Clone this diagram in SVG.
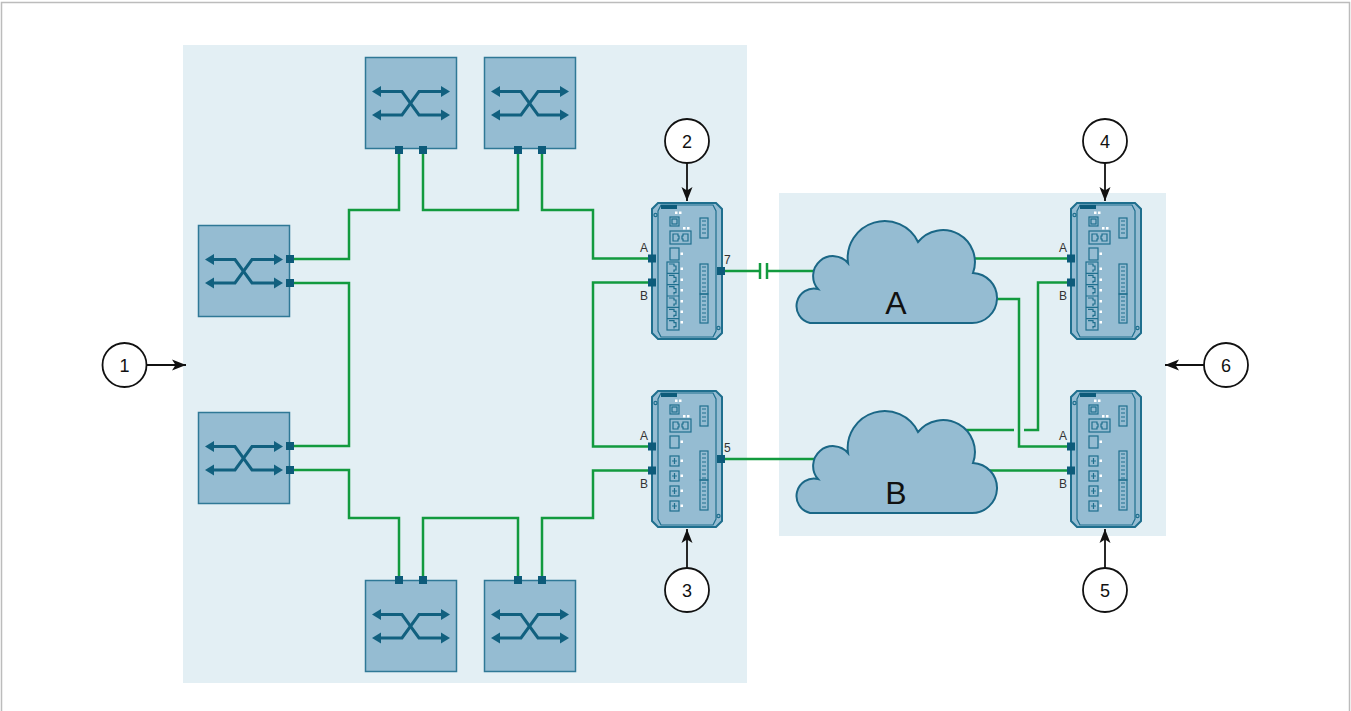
<svg xmlns="http://www.w3.org/2000/svg" xmlns:xlink="http://www.w3.org/1999/xlink" width="1351" height="711" viewBox="0 0 1351 711">
  <style>
    .frame { fill: #ffffff; stroke: #bcbcbc; stroke-width: 1.5; }
    .panel { fill: #e3eff4; }
    .wire { fill: none; stroke: #129a3e; stroke-width: 2.5; }
    .port { fill: #0d5b7a; }
    .body { fill: #95bcd2; stroke: #1f6f8e; stroke-width: 2; }
    .line { fill: none; stroke: #1f6f8e; stroke-width: 1.2; }
    .dot { fill: #ffffff; }
    .cloud { fill: #95bcd2; stroke: #1a6786; stroke-width: 2; }
    .plabel { font-family: "Liberation Sans", Arial, sans-serif; font-size: 12px; fill: #333333; }
    .clabel { font-family: "Liberation Sans", Arial, sans-serif; font-size: 32px; fill: #111111; text-anchor: middle; }
    .callout circle { fill: #ffffff; stroke: #111111; stroke-width: 1.8; }
    .callout text { font-family: "Liberation Sans", Arial, sans-serif; font-size: 18px; fill: #111111; text-anchor: middle; }
    .callout line { stroke: #111111; stroke-width: 1.8; }
  </style>
  <defs>
    <marker id="tip" markerUnits="userSpaceOnUse" markerWidth="15" markerHeight="12" refX="14" refY="6" orient="auto">
      <path d="M0,0.5 L14,6 L0,11.5 L3.5,6 Z" fill="#111111"/>
    </marker>

    <!-- Ethernet switch -->
    <symbol id="switch" viewBox="0 0 92 92" width="92" height="92" overflow="visible">
      <rect x="0.5" y="0.5" width="91" height="91" fill="#95bcd2" stroke="#2f7896" stroke-width="1.5"/>
      <g fill="none" stroke="#11607f" stroke-width="3">
        <path d="M14,34.5 H37 L54,58 H78"/>
        <path d="M14,58 H37 L54,34.5 H78"/>
      </g>
      <g fill="#11607f">
        <polygon points="7,34.5 16,29 16,40"/>
        <polygon points="85,34.5 76,29 76,40"/>
        <polygon points="7,58 16,52.5 16,63.5"/>
        <polygon points="85,58 76,52.5 76,63.5"/>
      </g>
    </symbol>

    <!-- device housing shared by both device types -->
    <g id="housing">
      <path class="body" d="M6,0 H64 L70,6 V130 L64,136 H6 L0,130 V6 Z"/>
      <path class="line" d="M6,8 L9,2 H61 L64,8 V128 L61,134 H9 L6,128 Z"/>
      <circle cx="3.5" cy="12" r="1.6" class="line"/>
      <circle cx="66.5" cy="125" r="1.6" class="line"/>
      <rect x="9" y="2" width="16" height="4" fill="#0d5b7a"/>
      <rect x="23" y="8.5" width="2.5" height="2.5" class="dot"/>
      <rect x="27" y="8.5" width="2.5" height="2.5" class="dot"/>
      <rect x="18" y="14" width="9" height="9" class="line"/>
      <rect x="20" y="16" width="5" height="5" class="line"/>
      <rect x="31" y="24" width="2.5" height="2.5" class="dot"/>
      <rect x="35" y="24" width="2.5" height="2.5" class="dot"/>
      <rect x="18" y="28" width="21" height="13" class="line" stroke-width="1.6"/>
      <path class="line" d="M21,31 H26 V33 H27 V36 H26 V38 H21 Z M36,31 H31 V33 H30 V36 H31 V38 H36 Z"/>
      <rect x="18" y="45" width="9" height="12" class="line"/>
      <rect x="28.5" y="49.5" width="2.5" height="2.5" class="dot"/>
      <rect x="48" y="15" width="8" height="20" class="line"/>
      <path class="line" d="M50,18 h4 M50,22 h4 M50,26 h4 M50,30 h4"/>
    </g>

    <!-- device with six RJ45 ports -->
    <symbol id="dev-rj" viewBox="0 0 70 136" width="70" height="136" overflow="visible">
      <use xlink:href="#housing"/>
      <rect x="15" y="59" width="12" height="68" class="line" stroke-width="1.4"/>
      <path class="line" d="M15,70.3 H27 M15,81.6 H27 M15,93 H27 M15,104.3 H27 M15,115.6 H27"/>
      <path class="line" d="M17,61 H22 V63 H24 V67 H22 V69 M17,72.3 H22 V74.3 H24 V78.3 H22 V80.3 M17,83.6 H22 V85.6 H24 V89.6 H22 V91.6 M17,95 H22 V97 H24 V101 H22 V103 M17,106.3 H22 V108.3 H24 V112.3 H22 V114.3 M17,117.6 H22 V119.6 H24 V123.6 H22 V125.6"/>
      <g class="dot">
        <rect x="28.5" y="64.5" width="2.5" height="2.5"/>
        <rect x="28.5" y="75.5" width="2.5" height="2.5"/>
        <rect x="28.5" y="86" width="2.5" height="2.5"/>
        <rect x="28.5" y="97" width="2.5" height="2.5"/>
        <rect x="28.5" y="107.5" width="2.5" height="2.5"/>
        <rect x="28.5" y="118" width="2.5" height="2.5"/>
      </g>
      <rect x="48" y="61" width="8" height="30" class="line"/>
      <rect x="48" y="91" width="8" height="29" class="line"/>
      <path class="line" d="M50,64 h4 M50,68 h4 M50,72 h4 M50,76 h4 M50,80 h4 M50,84 h4 M50,88 h4 M50,94 h4 M50,98 h4 M50,102 h4 M50,106 h4 M50,110 h4 M50,114 h4 M50,117 h4"/>
    </symbol>

    <!-- device with four small connectors -->
    <symbol id="dev-io" viewBox="0 0 70 136" width="70" height="136" overflow="visible">
      <use xlink:href="#housing"/>
      <g class="line">
        <rect x="18" y="65" width="9" height="10"/>
        <rect x="18" y="80" width="9" height="10"/>
        <rect x="18" y="95" width="9" height="10"/>
        <rect x="18" y="110" width="9" height="10"/>
        <path d="M20,70 h5 M22.5,67 v6 M20,85 h5 M22.5,82 v6 M20,100 h5 M22.5,97 v6 M20,115 h5 M22.5,112 v6"/>
      </g>
      <g class="dot">
        <rect x="28.5" y="68.5" width="2.5" height="2.5"/>
        <rect x="28.5" y="83.5" width="2.5" height="2.5"/>
        <rect x="28.5" y="98.5" width="2.5" height="2.5"/>
        <rect x="28.5" y="113.5" width="2.5" height="2.5"/>
      </g>
      <rect x="48" y="60" width="8" height="29" class="line"/>
      <rect x="48" y="89" width="8" height="30" class="line"/>
      <path class="line" d="M50,63 h4 M50,67 h4 M50,71 h4 M50,75 h4 M50,79 h4 M50,83 h4 M50,87 h4 M50,92 h4 M50,96 h4 M50,100 h4 M50,104 h4 M50,108 h4 M50,112 h4 M50,116 h4"/>
    </symbol>

    <path id="cloud-shape" class="cloud" d="M810,323 A17,17 0 1 1 818,289 A19,19 0 1 1 848,263 A37,37 0 0 1 918,242 A32,32 0 0 1 973,273 A24,24 0 0 1 971,323 Z"/>
  </defs>

  <rect class="frame" x="1.5" y="2.5" width="1348" height="712"/>
  <rect class="panel" x="183" y="45" width="564" height="638"/>
  <rect class="panel" x="779" y="193" width="387" height="343"/>

  <!-- links -->
  <g id="connectors">
    <path class="wire" d="M290,259 H349 V210 H399 V150"/>
    <path class="wire" d="M423,150 V210 H518 V150"/>
    <path class="wire" d="M542,150 V210 H593 V258.5 H652"/>
    <path class="wire" d="M290,283 H349 V446 H290"/>
    <path class="wire" d="M290,470 H349 V518 H399 V580"/>
    <path class="wire" d="M423,580 V518 H518 V580"/>
    <path class="wire" d="M542,580 V518 H593 V470.5 H652"/>
    <path class="wire" d="M652,282.5 H593 V446.5 H652"/>
    <path class="wire" d="M721,271 H759.5 M767,271 H816"/>
    <path class="wire" d="M760,263 V279 M767,263 V279" stroke-width="3"/>
    <path class="wire" d="M960,258.5 H1071"/>
    <path class="wire" d="M985,299 H1019 V446.5 H1071"/>
    <path class="wire" d="M1071,282.5 H1038 V430 H1024 M1014,430 H960"/>
    <path class="wire" d="M721,459 H816"/>
    <path class="wire" d="M985,470.5 H1071"/>
  </g>

  <!-- switches -->
  <g id="switch-top-1">
    <use xlink:href="#switch" x="365" y="57"/>
    <rect class="port" x="395" y="146" width="8" height="8"/>
    <rect class="port" x="419" y="146" width="8" height="8"/>
  </g>
  <g id="switch-top-2">
    <use xlink:href="#switch" x="484" y="57"/>
    <rect class="port" x="514" y="146" width="8" height="8"/>
    <rect class="port" x="538" y="146" width="8" height="8"/>
  </g>
  <g id="switch-left-1">
    <use xlink:href="#switch" x="198" y="225"/>
    <rect class="port" x="286" y="255" width="8" height="8"/>
    <rect class="port" x="286" y="279" width="8" height="8"/>
  </g>
  <g id="switch-left-2">
    <use xlink:href="#switch" x="198" y="412"/>
    <rect class="port" x="286" y="442" width="8" height="8"/>
    <rect class="port" x="286" y="466" width="8" height="8"/>
  </g>
  <g id="switch-bottom-1">
    <use xlink:href="#switch" x="365" y="580"/>
    <rect class="port" x="395" y="576" width="8" height="8"/>
    <rect class="port" x="419" y="576" width="8" height="8"/>
  </g>
  <g id="switch-bottom-2">
    <use xlink:href="#switch" x="484" y="580"/>
    <rect class="port" x="514" y="576" width="8" height="8"/>
    <rect class="port" x="538" y="576" width="8" height="8"/>
  </g>

  <!-- devices -->
  <g id="device-2">
    <use xlink:href="#dev-rj" x="652" y="203"/>
    <rect class="port" x="648" y="254.5" width="8" height="8"/>
    <rect class="port" x="648" y="278.5" width="8" height="8"/>
    <rect class="port" x="717" y="267" width="8" height="8"/>
    <text class="plabel" x="640" y="252">A</text>
    <text class="plabel" x="640" y="300">B</text>
    <text class="plabel" x="724" y="264">7</text>
  </g>
  <g id="device-3">
    <use xlink:href="#dev-io" x="652" y="391"/>
    <rect class="port" x="648" y="442.5" width="8" height="8"/>
    <rect class="port" x="648" y="466.5" width="8" height="8"/>
    <rect class="port" x="717" y="455" width="8" height="8"/>
    <text class="plabel" x="640" y="440">A</text>
    <text class="plabel" x="640" y="488">B</text>
    <text class="plabel" x="724" y="452">5</text>
  </g>
  <g id="device-4">
    <use xlink:href="#dev-rj" x="1071" y="203"/>
    <rect class="port" x="1067" y="254.5" width="8" height="8"/>
    <rect class="port" x="1067" y="278.5" width="8" height="8"/>
    <text class="plabel" x="1059" y="252">A</text>
    <text class="plabel" x="1059" y="300">B</text>
  </g>
  <g id="device-5">
    <use xlink:href="#dev-io" x="1071" y="391"/>
    <rect class="port" x="1067" y="442.5" width="8" height="8"/>
    <rect class="port" x="1067" y="466.5" width="8" height="8"/>
    <text class="plabel" x="1059" y="440">A</text>
    <text class="plabel" x="1059" y="488">B</text>
  </g>

  <!-- networks -->
  <g id="network-a">
    <use xlink:href="#cloud-shape"/>
    <text class="clabel" x="896" y="314">A</text>
  </g>
  <g id="network-b">
    <use xlink:href="#cloud-shape" y="190"/>
    <text class="clabel" x="896" y="504">B</text>
  </g>

  <!-- callouts -->
  <g id="callout-1" class="callout">
    <line x1="147" y1="365" x2="186" y2="365" marker-end="url(#tip)"/>
    <circle cx="124.5" cy="365" r="22"/>
    <text x="124.5" y="371.5">1</text>
  </g>
  <g id="callout-2" class="callout">
    <line x1="687" y1="163" x2="687" y2="201" marker-end="url(#tip)"/>
    <circle cx="687" cy="141" r="22"/>
    <text x="687" y="147.5">2</text>
  </g>
  <g id="callout-3" class="callout">
    <line x1="687" y1="568" x2="687" y2="529" marker-end="url(#tip)"/>
    <circle cx="687" cy="590" r="22"/>
    <text x="687" y="596.5">3</text>
  </g>
  <g id="callout-4" class="callout">
    <line x1="1105" y1="163" x2="1105" y2="201" marker-end="url(#tip)"/>
    <circle cx="1105" cy="141" r="22"/>
    <text x="1105" y="147.5">4</text>
  </g>
  <g id="callout-5" class="callout">
    <line x1="1105" y1="568" x2="1105" y2="529" marker-end="url(#tip)"/>
    <circle cx="1105" cy="590" r="22"/>
    <text x="1105" y="596.5">5</text>
  </g>
  <g id="callout-6" class="callout">
    <line x1="1204" y1="365" x2="1165" y2="365" marker-end="url(#tip)"/>
    <circle cx="1226" cy="365" r="22"/>
    <text x="1226" y="371.5">6</text>
  </g>
</svg>
